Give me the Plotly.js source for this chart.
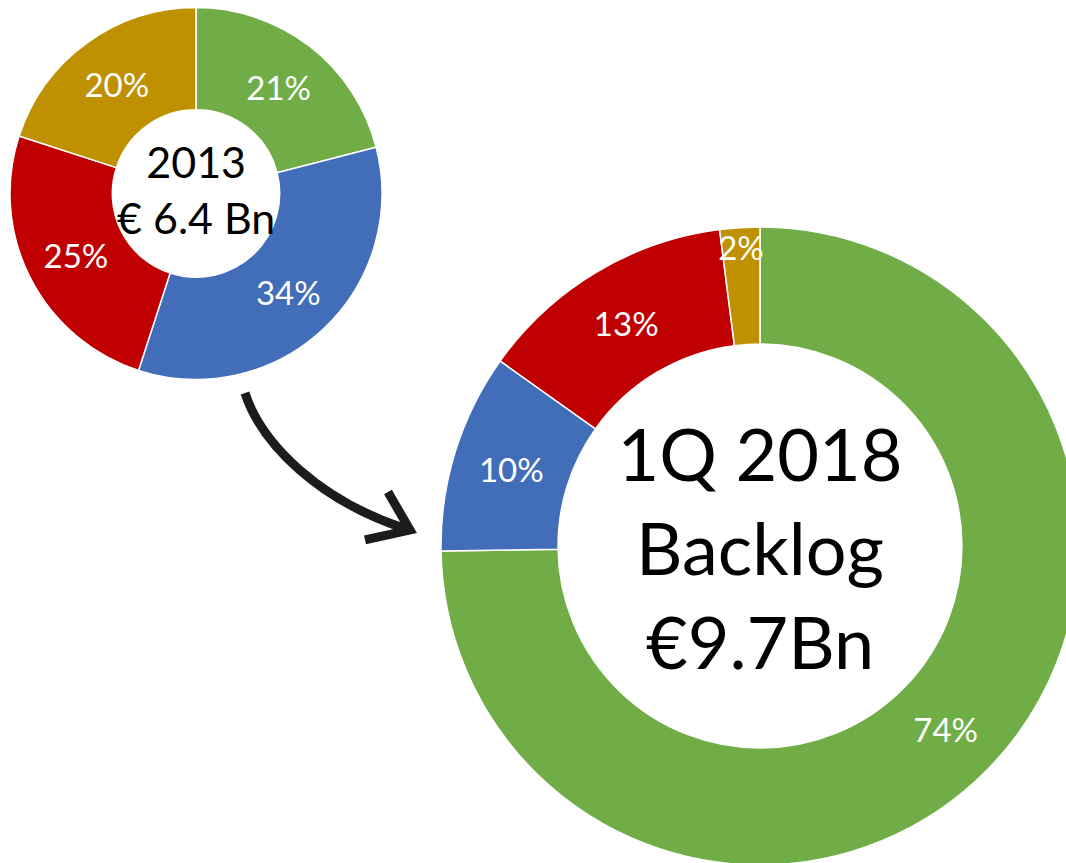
<!DOCTYPE html>
<html>
<head>
<meta charset="utf-8">
<script src="https://cdn.plot.ly/plotly-3.0.1.min.js"></script>
<style>
  html, body { margin: 0; padding: 0; overflow: hidden; background: #fff; }
</style>
</head>
<body>
<div id="myChart"></div>
<script>
// slice order is the same in both rings (clockwise from 12 o'clock)
let segments = ['Segment 1', 'Segment 2', 'Segment 3', 'Segment 4'];
let share2013 = [21, 34, 25, 20];
let share1Q2018 = [74, 10, 13, 2];
let sliceColors = ['#70AD47', '#416DB9', '#C00000', '#BF9000'];

let centre2013 = '2013<br>€ 6.4 Bn';
let centre2018 = '1Q 2018<br>Backlog<br>€9.7Bn';

// page is drawn a bit larger than the window so the big ring runs off the edge
let W = 1100, H = 880;
let font = 'Lato, "Open Sans", sans-serif';

function px(x, y) {
  return (x / W).toFixed(4) + ',' + (1 - y / H).toFixed(4);
}

let dom1 = { x: [10 / W, 382 / W], y: [1 - 380 / H, 1 - 7 / H] };

let trace1 = {
  type: 'pie',
  labels: segments,
  values: share2013,
  hole: 0.45,
  sort: false,
  direction: 'clockwise',
  rotation: 0,
  domain: dom1,
  marker: { colors: sliceColors, line: { color: '#fff', width: 1.5 } },
  texttemplate: '%{value}%',
  textposition: 'inside',
  insidetextorientation: 'horizontal',
  textfont: { color: '#fff', size: 33, family: font },
  hoverinfo: 'label+value'
};

let trace2 = {
  type: 'pie',
  labels: segments,
  values: share1Q2018,
  hole: 0.633,
  sort: false,
  direction: 'clockwise',
  rotation: 0,
  domain: { x: [441 / W, 1079 / W], y: [1 - 865 / H, 1 - 227 / H] },
  marker: { colors: sliceColors, line: { color: '#fff', width: 1.5 } },
  texttemplate: '%{value}%',
  textposition: 'inside',
  insidetextorientation: 'horizontal',
  textfont: { color: '#fff', size: 33, family: font },
  hoverinfo: 'label+value',
  title: { text: centre2018, position: 'middle center', font: { size: 72, color: '#000', family: font } }
};

// hand drawn looking arrow from the small ring to the big one
let arrowPath = 'M ' + px(245, 393) +
  ' C ' + px(262, 445) + ' ' + px(320, 500) + ' ' + px(403, 528) +
  ' M ' + px(388, 492) + ' L ' + px(410, 530) + ' L ' + px(365, 540);

let layout = {
  width: W,
  height: H,
  margin: { t: 0, b: 0, l: 0, r: 0 },
  paper_bgcolor: '#fff',
  showlegend: false,
  uniformtext: { mode: 'show', minsize: 33 },
  // the pie title gets shrunk to fit the small hole, so the 2013 label is an annotation
  annotations: [{
    xref: 'paper', yref: 'paper',
    x: (dom1.x[0] + dom1.x[1]) / 2,
    y: 1 - 189 / H,
    xanchor: 'center', yanchor: 'middle',
    showarrow: false,
    text: centre2013,
    font: { size: 43, color: '#000', family: font }
  }],
  shapes: [{
    type: 'path',
    xref: 'paper',
    yref: 'paper',
    path: arrowPath,
    line: { color: '#1c1c1c', width: 9 }
  }]
};

Plotly.newPlot('myChart', [trace1, trace2], layout, { displayModeBar: false, staticPlot: true });
</script>
</body>
</html>
